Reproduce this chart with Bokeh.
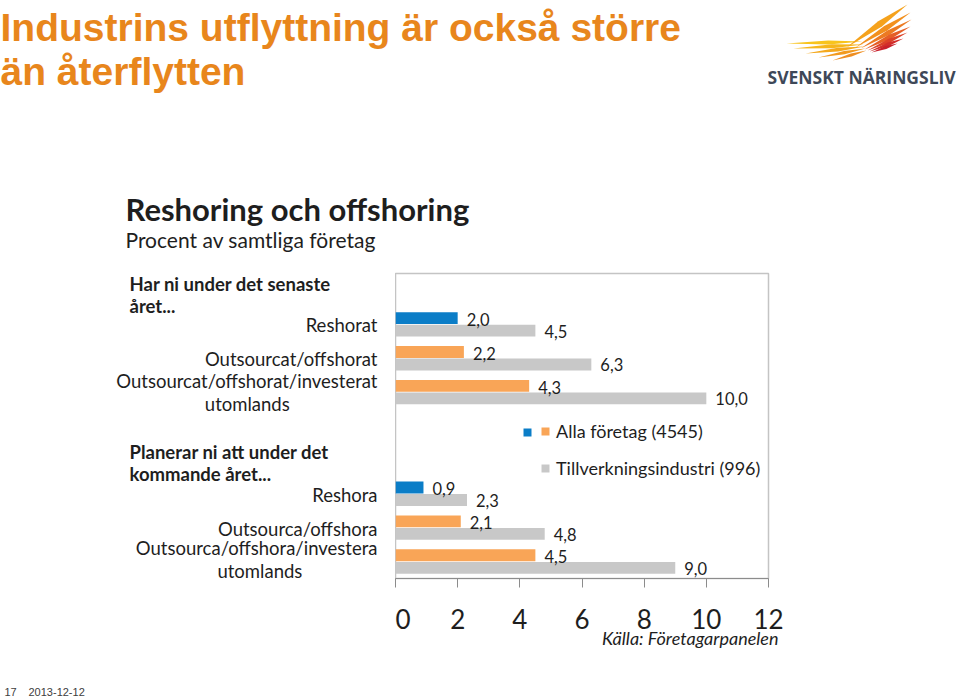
from bokeh.plotting import figure
from bokeh.layouts import column, row
from bokeh.models import (FactorRange, Range1d, ColumnDataSource, LabelSet, Label,
                          Legend, LegendItem, FixedTicker, Title)
from bokeh.core.properties import value
from bokeh.transform import dodge
from bokeh.embed import file_html
from bokeh.resources import INLINE

# ---------------- data ----------------
title_lines = ["Industrins utflyttning är också större", "än återflytten"]
chart_title = "Reshoring och offshoring"
chart_subtitle = "Procent av samtliga företag"
heading_past = ["Har ni under det senaste", "året..."]
heading_plan = ["Planerar ni att under det", "kommande året..."]
categories = ["Reshorat", "Outsourcat/offshorat",
              "Outsourcat/offshorat/investerat\nutomlands",
              "Reshora", "Outsourca/offshora",
              "Outsourca/offshora/investera\nutomlands"]
alla = [2.0, 2.2, 4.3, 0.9, 2.1, 4.5]
tillverkning = [4.5, 6.3, 10.0, 2.3, 4.8, 9.0]
alla_colors = ["#0B7DC7", "#F9A557", "#F9A557", "#0B7DC7", "#F9A557", "#F9A557"]
series_names = ["Alla företag (4545)", "Tillverkningsindustri (996)"]
x_ticks = [0, 2, 4, 6, 8, 10, 12]
source_note = "Källa: Företagarpanelen"
logo_text = "SVENSKT NÄRINGSLIV"
footer_page = "17"
footer_date = "2013-12-12"

# slot order top to bottom (blank factors are heading / spacer rows)
H1, SP, H2 = " ", "  ", "   "
slots = [H1] + categories[:3] + [SP, H2] + categories[3:]

# ---------------- layout constants (pixels) ----------------
W, H = 960, 698
HEADER_H = 265
FL, FT, FR, FB = 395, 273, 768, 578
FOOT_TOP = 684
MID_H = FOOT_TOP - HEADER_H
FONT = "Lato"
TXT = "#1E1E1E"
ORANGE_T = "#E8861C"
BASE_K = 0.31  # baseline correction (fraction of font size)


def blank(fig):
    fig.xgrid.grid_line_color = None
    fig.ygrid.grid_line_color = None
    fig.outline_line_color = None
    fig.background_fill_color = "white"
    fig.border_fill_color = "white"


def htext(fig, txt, x, y, size, color=TXT, font=FONT, style="normal", align="left"):
    fig.add_layout(Label(x=x, y=y - BASE_K * size, text=txt, text_font=font,
                         text_font_size=f"{size}px", text_font_style=style,
                         text_color=color, text_align=align,
                         text_baseline="alphabetic"))


# ---------------- header ----------------
hdr = figure(width=W, height=HEADER_H, output_backend="svg", toolbar_location=None,
             x_range=Range1d(0, W), y_range=Range1d(HEADER_H, 0),
             x_axis_location=None, y_axis_location=None,
             min_border=0, min_border_left=0, min_border_right=0,
             min_border_top=0, min_border_bottom=0)
blank(hdr)

htext(hdr, title_lines[0], 0, 39, 39, color=ORANGE_T, font="Liberation Sans", style="bold")
htext(hdr, title_lines[1], 0, 83, 39, color=ORANGE_T, font="Liberation Sans", style="bold")
htext(hdr, chart_title, 125, 218, 31, style="bold")
htext(hdr, chart_subtitle, 125, 246, 21)
htext(hdr, logo_text, 767, 82, 17.5, color="#3E4858", font="Open Sans", style="bold")

# logo wing feathers (decorative)
feathers = [
    (786, 43, 862, 41, 2.0, "#F8C41C"),
    (793, 48, 863, 44, 2.0, "#F6B61B"),
    (805, 53, 864, 46, 1.8, "#F4A81C"),
    (818, 57, 865, 48, 1.7, "#F29A1E"),
    (832, 60, 866, 50, 1.5, "#EF8E20"),
    (846, 47, 907, 4, 3.2, "#F5A21C"),
    (855, 47, 910, 12, 2.8, "#F2901E"),
    (860, 48, 911, 19, 2.5, "#EC7A22"),
    (864, 49, 910, 26, 2.3, "#E55E26"),
    (867, 50, 907, 32, 2.1, "#DC4228"),
    (869, 51, 903, 38, 1.9, "#D22E2A"),
    (871, 52, 897, 43, 1.6, "#C8202C"),
]
fx, fy, fc = [], [], []
for x0, y0, x1, y1, w, c in feathers:
    dx, dy = x1 - x0, y1 - y0
    ln = (dx * dx + dy * dy) ** 0.5
    nx, ny = -dy / ln * w, dx / ln * w
    mx, my = x0 + dx * 0.55, y0 + dy * 0.55
    fx.append([x0, mx + nx, x1, mx - nx])
    fy.append([y0, my + ny, y1, my - ny])
    fc.append(c)
hdr.patches(xs=fx, ys=fy, fill_color=fc, line_color=None)

# ---------------- main chart ----------------
y_range = FactorRange(factors=list(reversed(slots)))
p = figure(width=W - FL, height=MID_H, output_backend="svg", toolbar_location=None,
           y_range=y_range, x_range=Range1d(0, 12), y_axis_location=None,
           min_border_left=0, min_border_right=W - FR,
           min_border_top=FT - HEADER_H, min_border_bottom=FOOT_TOP - FB)
blank(p)
p.outline_line_color = "#C4C4C4"
p.outline_line_width = 1.5

src = ColumnDataSource(dict(
    cat=categories, alla=alla, till=tillverkning, color=alla_colors,
    alla_txt=[f"{v:.1f}".replace(".", ",") for v in alla],
    till_txt=[f"{v:.1f}".replace(".", ",") for v in tillverkning],
))

BH = 0.35
r_all = p.hbar(y=dodge("cat", 0.185, range=y_range), right="alla", left=0,
               height=BH, fill_color="color", line_color=None, source=src)
r_till = p.hbar(y=dodge("cat", -0.185, range=y_range), right="till", left=0,
                height=BH, fill_color="#C8C8C8", line_color=None, source=src)

for xcol, col, off in (("alla", "alla_txt", 0.15), ("till", "till_txt", -0.2)):
    p.add_layout(LabelSet(x=xcol, y=dodge("cat", off, range=y_range), text=col,
                          source=src, x_offset=9, text_baseline="middle",
                          text_align="left", text_font=value(FONT),
                          text_font_size="16.5px", text_color=TXT))

xa = p.xaxis[0]
xa.ticker = FixedTicker(ticks=x_ticks)
xa.axis_line_color = "#8C8C8C"
xa.major_tick_line_color = "#8C8C8C"
xa.major_tick_out = 9
xa.major_tick_in = 0
xa.minor_tick_line_color = None
xa.major_label_text_font = FONT
xa.major_label_text_font_size = "26px"
xa.major_label_text_color = TXT
xa.major_label_standoff = 21

# source note under the axis, right aligned
p.add_layout(Title(text=source_note, align="right", offset=-10, standoff=-10,
                   vertical_align="top", text_font=FONT, text_font_size="18px",
                   text_font_style="italic", text_color=TXT), "below")

leg_a = Legend(items=[LegendItem(label=series_names[0], renderers=[r_all], index=1),
                      LegendItem(label=series_names[1], renderers=[r_till], index=0)],
               location=(540 - FL, FB - 479), orientation="vertical",
               glyph_width=10, glyph_height=10, label_standoff=6,
               label_text_font=FONT, label_text_font_size="18px",
               label_text_color=TXT, spacing=15, padding=0, margin=0,
               border_line_color=None, background_fill_alpha=0)
leg_b = Legend(items=[LegendItem(label=" ", renderers=[r_all], index=0)],
               location=(522 - FL, FB - 437), glyph_width=10, glyph_height=10,
               label_standoff=0, label_text_font_size="17px", padding=0, margin=0,
               border_line_color=None, background_fill_alpha=0)
p.add_layout(leg_a)
p.add_layout(leg_b)

# ---------------- category labels (shared categorical scale) ----------------
lf = figure(width=FL, height=MID_H, output_backend="svg", toolbar_location=None,
            y_range=y_range, x_range=Range1d(0, FL),
            x_axis_location=None, y_axis_location=None,
            min_border_left=0, min_border_right=0,
            min_border_top=FT - HEADER_H, min_border_bottom=FOOT_TOP - FB)
blank(lf)

LABEL_RIGHT = 377
CHAR_W = 8.4
CAT_SIZE = 18.5
r_x, r_y, r_t, r_off = [], [], [], []
c_x, c_y, c_t, c_off = [], [], [], []
for i, cat in enumerate(categories):
    lines = cat.split("\n")
    lift = 3 if i == len(categories) - 1 else 0  # keep last label inside the frame
    if len(lines) == 1:
        r_x.append(LABEL_RIGHT); r_y.append(cat); r_t.append(cat); r_off.append(1)
    else:
        r_x.append(LABEL_RIGHT); r_y.append(cat); r_t.append(lines[0])
        r_off.append(-11 - lift)
        c_x.append(LABEL_RIGHT - CHAR_W * len(lines[0]) / 2)
        c_y.append(cat); c_t.append(lines[1]); c_off.append(12 - lift)
lf.text(x=r_x, y=r_y, text=r_t, y_offset=r_off, text_align="right",
        text_baseline="middle", text_font=value(FONT), text_font_size=f"{CAT_SIZE}px",
        text_color=TXT)
lf.text(x=c_x, y=c_y, text=c_t, y_offset=c_off, text_align="center",
        text_baseline="middle", text_font=value(FONT), text_font_size=f"{CAT_SIZE}px",
        text_color=TXT)
HEAD_X = 129
HEAD_SIZE = 18.5
hc = BASE_K * HEAD_SIZE
lf.text(x=[HEAD_X] * 4, y=[H1, H1, H2, H2],
        text=heading_past + heading_plan,
        y_offset=[-1 - hc, 21 - hc, -2 - hc, 20 - hc],
        text_align="left", text_baseline="alphabetic", text_font=value(FONT),
        text_font_style="bold", text_font_size=f"{HEAD_SIZE}px", text_color=TXT)

# ---------------- footer ----------------
ft = figure(width=W, height=H - FOOT_TOP, output_backend="svg", toolbar_location=None,
            x_range=Range1d(0, W), y_range=Range1d(H, FOOT_TOP),
            x_axis_location=None, y_axis_location=None,
            min_border=0, min_border_left=0, min_border_right=0,
            min_border_top=0, min_border_bottom=0)
blank(ft)
htext(ft, footer_page, 4, 695, 11, color="#404040", font="Liberation Sans")
htext(ft, footer_date, 28, 695, 11, color="#404040", font="Liberation Sans")

page = column(hdr, row(lf, p, spacing=0), ft, spacing=0)
open("out.html", "w").write(file_html(page, INLINE))
